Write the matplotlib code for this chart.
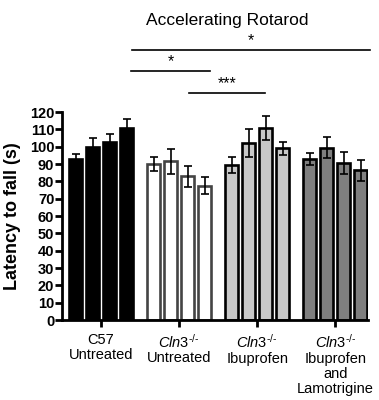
import matplotlib.pyplot as plt
import numpy as np

plt.rcParams['font.family'] = ['Liberation Sans', 'DejaVu Sans']
plt.rcParams['mathtext.fontset'] = 'custom'
plt.rcParams['mathtext.rm'] = 'Liberation Sans'
plt.rcParams['mathtext.it'] = 'Liberation Sans:italic'

ko = r"$\it{Cln3}^{\mathrm{" + "\u2010/\u2010" + "}}$"
groups = ["C57\nUntreated",
          ko + "\nUntreated",
          ko + "\nIbuprofen",
          ko + "\nIbuprofen\nand\nLamotrigine"]
means = [[93, 100, 102.5, 111],
         [90, 91.5, 83, 77.5],
         [89.5, 102, 111, 99],
         [93, 99.5, 90.5, 86.5]]
errs = [[3, 5, 5, 5],
        [4, 7, 6, 5],
        [4.5, 8, 7, 4],
        [3.5, 6, 6.5, 6]]
face = ['black', 'white', '#c8c8c8', '#7f7f7f']
edge = ['black', '#444444', 'black', 'black']

# significance bars: (x start, x end, y, label)
sig = [(0.40, 3.45, 156, "*"),
       (0.39, 1.40, 143.5, "*"),
       (1.13, 2.10, 131, "***")]

fig = plt.figure(figsize=(3.79, 4.0), dpi=100)
ax = fig.add_axes([0.1636, 0.2, 0.971 - 0.1636, 0.693])

offs = (np.arange(4) - 1.5) * 0.218
for i in range(4):
    x = i + offs
    ax.bar(x, means[i], width=0.165, color=face[i], edgecolor=edge[i],
           linewidth=1.9, zorder=2)
    ax.errorbar(x, means[i], yerr=errs[i], fmt='none', ecolor='black',
                elinewidth=1.2, capsize=3, capthick=1.2, zorder=3)

for x0, x1, y, lab in sig:
    ax.plot([x0, x1], [y, y], color='black', lw=1.2, clip_on=False)
    ax.text((x0 + x1) / 2, y + 1.2, lab, ha='center', va='bottom',
            fontsize=11.5)

ax.set_xlim(-0.5, 3.42)
ax.set_ylim(0, 160)
ax.spines['top'].set_visible(False)
ax.spines['right'].set_visible(False)
ax.spines['left'].set_bounds(0, 120)
ax.spines['left'].set_linewidth(2)
ax.spines['bottom'].set_linewidth(2)
ax.set_yticks(np.arange(0, 121, 10))
ax.set_yticklabels([str(v) for v in range(0, 121, 10)],
                   fontweight='bold', fontsize=10.5)
ax.tick_params(axis='y', width=2, length=5, pad=0.5)
ax.set_xticks(range(4))
ax.set_xticklabels(groups, fontsize=10.5, linespacing=1.1)
ax.tick_params(axis='x', width=2, length=5, pad=4)
ax.set_ylabel("Latency to fall (s)", fontsize=13, fontweight='bold',
              labelpad=2)
ax.yaxis.set_label_coords(-0.135, 60 / 160)

fig.text(0.6, 0.95, "Accelerating Rotarod", ha='center', va='center',
         fontsize=12.5)

fig.savefig("out.png", dpi=100)
